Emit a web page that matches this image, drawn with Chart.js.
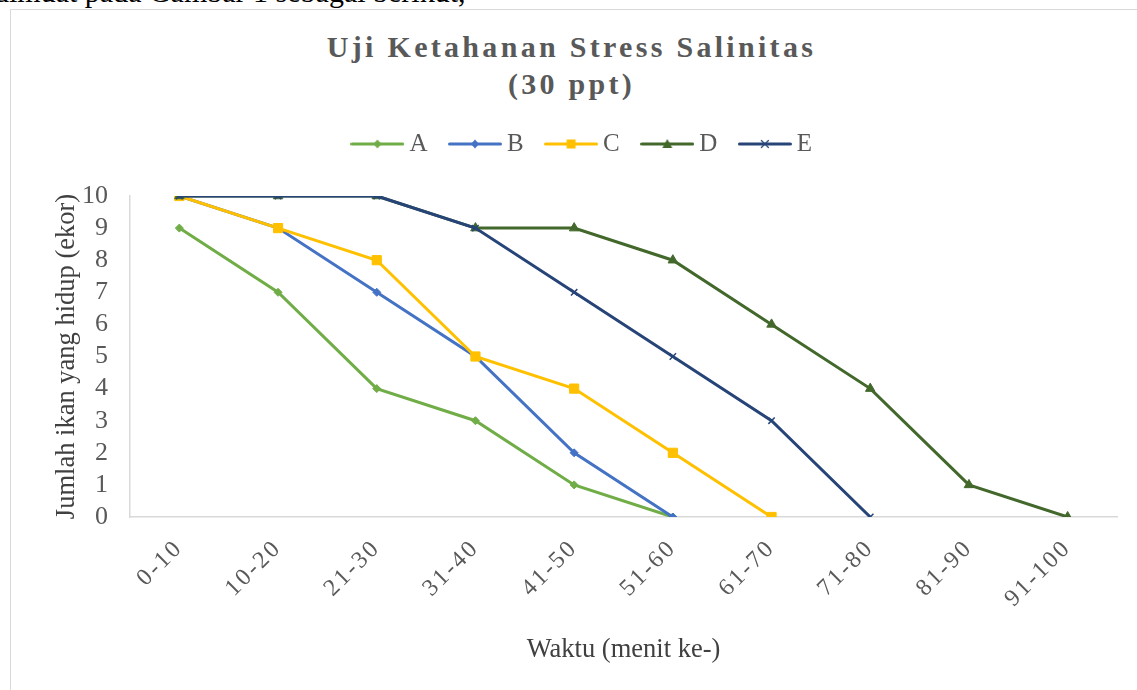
<!DOCTYPE html>
<html lang="id">
<head>
<meta charset="UTF-8" />
<title>Uji Ketahanan Stress Salinitas</title>
<script src="https://cdn.jsdelivr.net/npm/chart.js"></script>
<style>
  html, body { margin: 0; padding: 0; background: #fff; overflow: hidden; }
  body { width: 1137px; height: 690px; position: relative; }
  .teks-atas {
    position: absolute; left: -6px; top: -25px; line-height: 30px;
    font: 30px "Liberation Serif", serif; color: #000; white-space: nowrap;
  }
  .bingkai {
    position: absolute; left: 10px; top: 9px; width: 1200px; height: 800px;
    border: 1.5px solid #d9d9d9;
  }
  .judul {
    position: absolute; left: 0; top: 28px; width: 1143px; text-align: center;
    font: bold 30px "Liberation Serif", serif; letter-spacing: 3.3px; line-height: 37px;
    color: #595959;
  }
  #grafik { position: absolute; left: 0; top: 0; }
</style>
</head>
<body>
<div class="teks-atas">dimuat pada Gambar 1 sebagai berikut,</div>
<div class="bingkai"></div>
<div class="judul">Uji Ketahanan Stress Salinitas<br>(30 ppt)</div>
<canvas id="grafik" width="1137" height="690"></canvas>

<script>
  // waktu pengamatan (menit ke-)
  const waktu = ['0-10', '10-20', '21-30', '31-40', '41-50', '51-60', '61-70', '71-80', '81-90', '91-100'];

  // jumlah ikan yang hidup tiap perlakuan
  const dataA = [9, 7, 4, 3, 1, 0];
  const dataB = [10, 9, 7, 5, 2, 0];
  const dataC = [10, 9, 8, 5, 4, 2, 0];
  const dataD = [10, 10, 10, 9, 9, 8, 6, 4, 1, 0];
  const dataE = [10, 10, 10, 9, 7, 5, 3, 0];

  const tickY = [0, 1, 2, 3, 4, 5, 6, 7, 8, 9, 10];

  const huruf = '"Liberation Serif", "Times New Roman", serif';

  // gambar kecil garis + penanda untuk legenda (seperti Excel)
  function ikonLegenda(warna, bentuk) {
    const c = document.createElement('canvas');
    c.width = 54; c.height = 14;
    const g = c.getContext('2d');
    g.strokeStyle = warna; g.fillStyle = warna;
    g.lineWidth = 3; g.lineCap = 'round';
    g.beginPath(); g.moveTo(1.5, 7); g.lineTo(52.5, 7); g.stroke();
    const cx = 27, cy = 7;
    g.beginPath();
    if (bentuk === 'wajik') {
      g.moveTo(cx, cy - 4.5); g.lineTo(cx + 4, cy); g.lineTo(cx, cy + 4.5); g.lineTo(cx - 4, cy); g.closePath(); g.fill();
    } else if (bentuk === 'kotak') {
      g.fillRect(cx - 4.5, cy - 4.5, 9, 9);
    } else if (bentuk === 'segitiga') {
      g.moveTo(cx, cy - 5); g.lineTo(cx + 5, cy + 4); g.lineTo(cx - 5, cy + 4); g.closePath(); g.fill();
    } else if (bentuk === 'silang') {
      g.lineWidth = 1.2;
      g.moveTo(cx - 3.5, cy - 3.5); g.lineTo(cx + 3.5, cy + 3.5);
      g.moveTo(cx + 3.5, cy - 3.5); g.lineTo(cx - 3.5, cy + 3.5); g.stroke();
    }
    return c;
  }

  function seri(label, data, warna, gaya, radius, bentuk, urutan) {
    return {
      label: label,
      data: data,
      borderColor: warna,
      backgroundColor: warna,
      borderWidth: 3,
      pointStyle: gaya,
      pointRadius: radius,
      pointBorderWidth: gaya === 'crossRot' ? 1.5 : 1,
      pointBackgroundColor: warna,
      pointBorderColor: warna,
      tension: 0,
      order: urutan,
      ikon: ikonLegenda(warna, bentuk)
    };
  }

  const datasets = [
    seri('A', dataA, '#70ad47', 'rectRot', 4, 'wajik', 4),
    seri('B', dataB, '#4472c4', 'rectRot', 4, 'wajik', 3),
    seri('C', dataC, '#ffc000', 'rect', 6.5, 'kotak', 2),
    seri('D', dataD, '#43682b', 'triangle', 5.5, 'segitiga', 1),
    seri('E', dataE, '#264478', 'crossRot', 4.5, 'silang', 0)
  ];

  // tambah ruang di bawah legenda
  const ruangLegenda = {
    id: 'ruangLegenda',
    beforeLayout(chart) {
      const lg = chart.legend;
      if (lg && !lg._ditambah) {
        const fitAsli = lg.fit;
        lg.fit = function () { fitAsli.call(this); this.height += 29.5; };
        lg._ditambah = true;
      }
    }
  };

  // label sumbu x agak renggang seperti di Excel
  const jarakHuruf = '2.5px';
  function renggangkan(s) {
    if (s._renggang) return;
    const ukurAsli = s._computeLabelSizes;
    const gambarAsli = s.drawLabels;
    s._computeLabelSizes = function () {
      this.ctx.letterSpacing = jarakHuruf;
      const hasil = ukurAsli.apply(this, arguments);
      this.ctx.letterSpacing = '0px';
      return hasil;
    };
    s.drawLabels = function () {
      this.ctx.letterSpacing = jarakHuruf;
      gambarAsli.apply(this, arguments);
      this.ctx.letterSpacing = '0px';
    };
    s._renggang = true;
  }

  new Chart(document.getElementById('grafik'), {
    type: 'line',
    data: { labels: waktu, datasets: datasets },
    plugins: [ruangLegenda],
    options: {
      responsive: false,
      animation: false,
      layout: { padding: { top: 103.5, left: 53, right: 20, bottom: 0 } },
      plugins: {
        title: { display: false },
        tooltip: { enabled: false },
        legend: {
          position: 'top',
          labels: {
            usePointStyle: true,
            pointStyleWidth: 39,
            padding: 28,
            color: '#595959',
            font: { family: huruf, size: 25 },
            sort: (a, b) => a.datasetIndex - b.datasetIndex,
            generateLabels(chart) {
              const items = Chart.defaults.plugins.legend.labels.generateLabels(chart);
              items.forEach(it => { it.pointStyle = chart.data.datasets[it.datasetIndex].ikon; });
              return items;
            }
          }
        }
      },
      scales: {
        x: {
          offset: true,
          grid: { display: false, drawTicks: false },
          border: { display: true, color: '#d9d9d9', width: 1.5 },
          ticks: {
            autoSkip: false, minRotation: 45, maxRotation: 45, padding: 17,
            color: '#595959', font: { family: huruf, size: 24 }
          },
          title: {
            display: true, text: 'Waktu (menit ke-)', color: '#404040',
            font: { family: huruf, size: 26.5 }, padding: { top: 0, bottom: 24 }
          },
          beforeUpdate(s) { renggangkan(s); },
          afterFit(s) { s.height = 173; }
        },
        y: {
          min: 0, max: 10,
          afterBuildTicks(s) { s.ticks = tickY.map(v => ({ value: v })); },
          grid: { display: false, drawTicks: false },
          border: { display: true, color: '#d9d9d9', width: 1.5 },
          ticks: { autoSkip: false, padding: 22, color: '#595959', font: { family: huruf, size: 26 } },
          title: {
            display: true, text: 'Jumlah ikan yang hidup (ekor)', color: '#404040',
            font: { family: huruf, size: 26.5 }, padding: { top: -2, bottom: 0 }
          },
          afterFit(s) { s.width = 77; }
        }
      }
    }
  });
</script>
</body>
</html>
